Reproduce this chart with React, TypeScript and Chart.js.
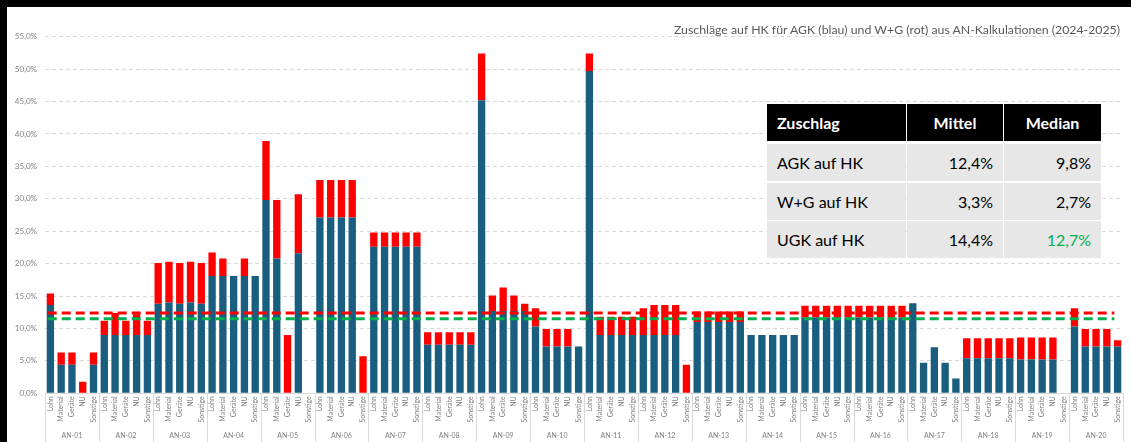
import React, { useEffect, useRef } from "react";
import { Chart, registerables } from "chart.js";

Chart.register(...registerables);

// ---------- data ----------
const GROUPS = [
  "AN-01", "AN-02", "AN-03", "AN-04", "AN-05", "AN-06", "AN-07", "AN-08", "AN-09", "AN-10",
  "AN-11", "AN-12", "AN-13", "AN-14", "AN-15", "AN-16", "AN-17", "AN-18", "AN-19", "AN-20",
];
const COST_TYPES = ["Lohn", "Material", "Geräte", "NU", "Sonstige"];

// AGK auf HK (blau), %, 5 values per group (Lohn, Material, Geräte, NU, Sonstige)
const AGK = [
  13.6, 4.4, 4.4, 0, 4.4, // AN-01
  9.0, 9.0, 9.0, 9.0, 9.0, // AN-02
  13.8, 14.0, 13.8, 14.0, 13.8, // AN-03
  18.1, 18.1, 18.1, 18.1, 18.1, // AN-04
  29.8, 20.8, 0, 21.6, 0, // AN-05
  27.1, 27.1, 27.1, 27.1, 0, // AN-06
  22.6, 22.6, 22.6, 22.6, 22.6, // AN-07
  7.5, 7.5, 7.5, 7.5, 7.5, // AN-08
  45.2, 12.7, 12.7, 12.7, 12.7, // AN-09
  10.3, 7.2, 7.2, 7.2, 7.2, // AN-10
  49.7, 9.0, 9.0, 9.0, 9.0, // AN-11
  9.0, 9.0, 9.0, 9.0, 0, // AN-12
  11.0, 11.0, 11.0, 11.0, 11.0, // AN-13
  9.0, 9.0, 9.0, 9.0, 9.0, // AN-14
  11.7, 11.7, 11.7, 11.7, 11.7, // AN-15
  11.7, 11.7, 11.7, 11.7, 11.7, // AN-16
  13.9, 4.7, 7.1, 4.7, 2.3, // AN-17
  5.4, 5.4, 5.4, 5.4, 5.4, // AN-18
  5.2, 5.2, 5.2, 5.2, 0, // AN-19
  10.3, 7.2, 7.2, 7.2, 7.2, // AN-20
];

// W+G auf HK (rot), %, stacked on top of AGK
const WG = [
  1.8, 1.9, 1.9, 1.8, 1.9, // AN-01
  2.2, 3.4, 2.2, 3.2, 2.2, // AN-02
  6.3, 6.3, 6.3, 6.3, 6.3, // AN-03
  3.6, 2.7, 0, 2.7, 0, // AN-04
  9.1, 9.0, 9.0, 9.1, 0, // AN-05
  5.8, 5.8, 5.8, 5.8, 5.7, // AN-06
  2.2, 2.2, 2.2, 2.2, 2.2, // AN-07
  1.9, 1.9, 1.9, 1.9, 1.9, // AN-08
  7.2, 2.4, 3.6, 2.4, 1.1, // AN-09
  2.8, 2.7, 2.7, 2.7, 0, // AN-10
  2.7, 2.8, 2.8, 2.8, 2.8, // AN-11
  4.1, 4.6, 4.6, 4.6, 4.4, // AN-12
  1.6, 1.6, 1.6, 1.6, 1.6, // AN-13
  0, 0, 0, 0, 0, // AN-14
  1.8, 1.8, 1.8, 1.8, 1.8, // AN-15
  1.8, 1.8, 1.8, 1.8, 1.8, // AN-16
  0, 0, 0, 0, 0, // AN-17
  3.1, 3.1, 3.1, 3.1, 3.1, // AN-18
  3.4, 3.4, 3.4, 3.4, 0, // AN-19
  2.8, 2.7, 2.7, 2.7, 1.0, // AN-20
];

// horizontal reference lines (%)
const REF_VALUES = [12.4, 11.5];
const REF_COLORS = ["#FF0000", "#00B050"];

const Y_MIN = 0;
const Y_MAX = 55;
const Y_STEP = 5;

const TITLE = "Zuschläge auf HK für AGK (blau) und W+G (rot) aus AN-Kalkulationen (2024-2025)";

const TABLE_HEADER = ["Zuschlag", "Mittel", "Median"];
const TABLE_ROWS = [
  ["AGK auf HK", "12,4%", "9,8%"],
  ["W+G auf HK", "3,3%", "2,7%"],
  ["UGK auf HK", "14,4%", "12,7%"],
];

// ---------- derived ----------
const X_LABELS: string[] = GROUPS.flatMap(() => COST_TYPES);

const FONT = "Lato, 'Open Sans', sans-serif";
const AXIS_GRAY = "#7F7F7F";
const GRID_GRAY = "#D9D9D9";

const separatorPlugin = {
  id: "groupSeparators",
  afterDraw(chart: any) {
    const x = chart.scales.x;
    const ctx = chart.ctx;
    ctx.save();
    ctx.strokeStyle = GRID_GRAY;
    ctx.lineWidth = 1;
    for (let g = 0; g <= GROUPS.length; g++) {
      const px = Math.round(x.getPixelForValue(g * COST_TYPES.length - 0.5)) + 0.5;
      ctx.beginPath();
      ctx.moveTo(px, x.top);
      ctx.lineTo(px, chart.height);
      ctx.stroke();
    }
    ctx.restore();
  },
};

const refLinePlugin = {
  id: "refLines",
  afterDatasetsDraw(chart: any) {
    const y = chart.scales.y;
    const x = chart.scales.x;
    const ctx = chart.ctx;
    const x0 = x.getPixelForValue(-0.25);
    const x1 = x.getPixelForValue(X_LABELS.length - 1.3);
    ctx.save();
    ctx.lineWidth = 3;
    ctx.setLineDash([9, 5]);
    REF_VALUES.forEach((v, i) => {
      const py = y.getPixelForValue(v);
      ctx.strokeStyle = REF_COLORS[i];
      ctx.beginPath();
      ctx.moveTo(x0, py);
      ctx.lineTo(x1, py);
      ctx.stroke();
    });
    ctx.restore();
  },
};

function ChartCanvas() {
  const ref = useRef<HTMLCanvasElement | null>(null);
  useEffect(() => {
    if (!ref.current) return;
    const chart = new Chart(ref.current, {
      type: "bar",
      data: {
        labels: X_LABELS,
        datasets: [
          {
            label: "AGK",
            data: AGK,
            backgroundColor: "#195E7F",
            stack: "s",
            barPercentage: 0.68,
            categoryPercentage: 1,
            xAxisID: "x",
          },
          {
            label: "W+G",
            data: WG,
            backgroundColor: "#FF0000",
            stack: "s",
            barPercentage: 0.68,
            categoryPercentage: 1,
            xAxisID: "x",
          },
        ],
      },
      options: {
        animation: false,
        responsive: false,
        maintainAspectRatio: false,
        layout: { padding: { top: 29.7, right: 8, left: 0, bottom: 0 } },
        plugins: {
          legend: { display: false },
          tooltip: { enabled: false },
          title: { display: false },
        },
        scales: {
          x: {
            stacked: true,
            grid: { display: false, drawTicks: false },
            border: { display: true, color: GRID_GRAY },
            ticks: {
              autoSkip: false,
              maxRotation: 90,
              minRotation: 90,
              padding: 3,
              color: AXIS_GRAY,
              font: { family: FONT, size: 7 },
            },
            afterFit: (s: any) => {
              s.height = 33;
            },
          },
          x2: {
            type: "category",
            labels: GROUPS,
            position: "bottom",
            grid: { display: false, drawTicks: false },
            border: { display: false },
            ticks: {
              autoSkip: false,
              maxRotation: 0,
              minRotation: 0,
              padding: 5,
              color: AXIS_GRAY,
              font: { family: FONT, size: 7 },
            },
            afterFit: (s: any) => {
              s.height = 15.7;
            },
          },
          y: {
            stacked: true,
            min: Y_MIN,
            max: Y_MAX,
            grid: { color: GRID_GRAY, drawTicks: false },
            border: { display: false, dash: [4, 3] },
            ticks: {
              stepSize: Y_STEP,
              padding: 8,
              color: AXIS_GRAY,
              font: { family: FONT, size: 8 },
              callback: (v: any) => Number(v).toFixed(1).replace(".", ",") + "%",
            },
            afterFit: (s: any) => {
              s.width = 38;
            },
          },
        },
      } as any,
      plugins: [separatorPlugin, refLinePlugin],
    });
    return () => chart.destroy();
  }, []);
  return <canvas ref={ref} width={1124} height={435} style={{ display: "block", width: 1124, height: 435 }} />;
}

const COL_X = [767, 907, 1004];
const COL_W = [139, 96, 97];
const ROW_Y = [104, 144, 183, 221];
const ROW_H = 37;

function StatsTable() {
  const cells: React.ReactNode[] = [];
  TABLE_HEADER.forEach((h, c) => {
    cells.push(
      <div
        key={"h" + c}
        style={{
          position: "absolute",
          left: COL_X[c],
          top: ROW_Y[0],
          width: COL_W[c],
          height: ROW_H,
          background: "#000",
          color: "#fff",
          fontWeight: 700,
          display: "flex",
          alignItems: "center",
          justifyContent: c === 0 ? "flex-start" : "center",
          paddingLeft: c === 0 ? 10 : 0,
          boxSizing: "border-box",
        }}
      >
        {h}
      </div>
    );
  });
  TABLE_ROWS.forEach((row, r) => {
    row.forEach((txt, c) => {
      const green = r === TABLE_ROWS.length - 1 && c === 2;
      cells.push(
        <div
          key={"r" + r + "c" + c}
          style={{
            position: "absolute",
            left: COL_X[c],
            top: ROW_Y[r + 1],
            width: COL_W[c],
            height: ROW_H,
            background: "#E7E7E7",
            color: green ? "#00B050" : "#000",
            display: "flex",
            alignItems: "center",
            justifyContent: c === 0 ? "flex-start" : "flex-end",
            paddingLeft: c === 0 ? 10 : 0,
            paddingRight: c === 0 ? 0 : 10,
            boxSizing: "border-box",
          }}
        >
          {txt}
        </div>
      );
    });
  });
  return <div style={{ fontFamily: FONT, fontSize: 16 }}>{cells}</div>;
}

export default function App() {
  return (
    <div
      style={{
        position: "absolute",
        left: 0,
        top: 0,
        width: 1131,
        height: 442,
        background: "#000",
        overflow: "hidden",
      }}
    >
      <div
        style={{
          position: "absolute",
          left: 7,
          top: 7,
          width: 1124,
          height: 435,
          background: "#fff",
        }}
      >
        <ChartCanvas />
      </div>
      <div
        style={{
          position: "absolute",
          right: 11,
          top: 21,
          fontFamily: FONT,
          fontSize: 12.3,
          color: "#595959",
          whiteSpace: "nowrap",
          lineHeight: "18px",
        }}
      >
        {TITLE}
      </div>
      <StatsTable />
    </div>
  );
}
